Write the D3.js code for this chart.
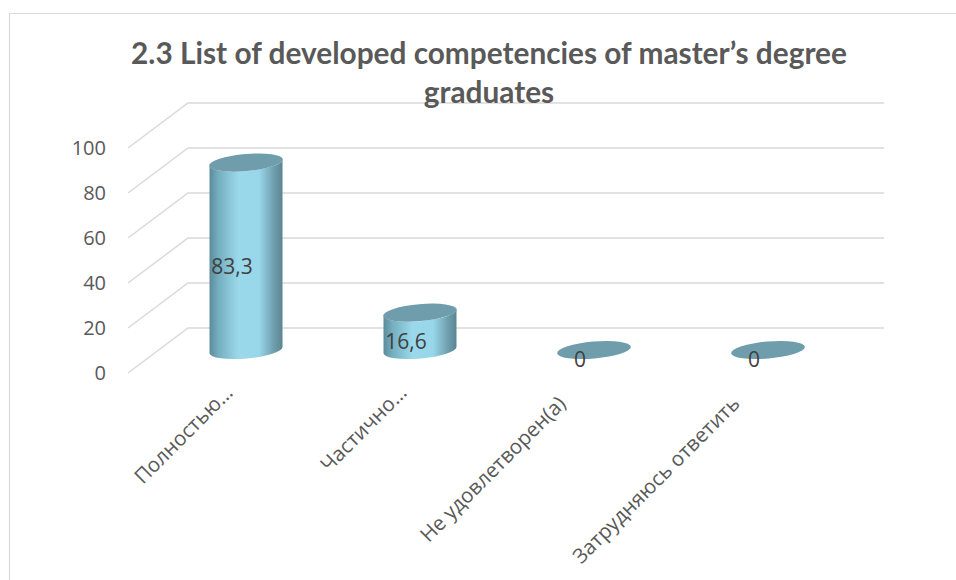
<!DOCTYPE html>
<html>
<head>
<meta charset="utf-8">
<script src="https://cdn.jsdelivr.net/npm/d3@7"></script>
<style>
  body { margin: 0; background: #fff; }
  svg { display: block; }
  text { font-family: "Open Sans", sans-serif; }
</style>
</head>
<body>
<svg id="chart"></svg>
<script>
const width = 956;
const height = 580;

const categories = ["Полностью…", "Частично…", "Не удовлетворен(а)", "Затрудняюсь ответить"];
const values = [83.3, 16.6, 0, 0];
const valueLabels = ["83,3", "16,6", "0", "0"];
const yTicks = [0, 20, 40, 60, 80, 100];
const titleLines = ["2.3 List of developed competencies of master’s degree", "graduates"];

const svg = d3.select("#chart").attr("width", width).attr("height", height);

// frame of the chart area
svg.append("path")
  .attr("d", "M9.5,580V13.5H956")
  .attr("fill", "none")
  .attr("stroke", "#d9d9d9")
  .attr("stroke-width", 1.2);

// front edge of the floor is y(0), the back wall sits up and to the right
const depthX = 60;
const depthY = 45;
const y = d3.scaleLinear().domain([0, 100]).range([373, 148]);
const x = d3.scaleBand().domain(categories).range([159, 855]);

const defs = svg.append("defs");
const grad = defs.append("linearGradient").attr("id", "cyl");
[[0, "#5b8b9b"], [0.12, "#74aebf"], [0.4, "#9ad9eb"], [0.68, "#98d7e9"], [0.88, "#6f9fae"], [1, "#5a8592"]]
  .forEach(([o, c]) => grad.append("stop").attr("offset", o).attr("stop-color", c));

// ----- GRID -----
const grid = svg.append("g").attr("fill", "none").attr("stroke", "#d9d9d9").attr("stroke-width", 1.5);
grid.selectAll("path")
  .data(yTicks)
  .join("path")
  .attr("d", d => `M128,${y(d)}L${128 + depthX},${y(d) - depthY}H884`);

// ----- Y AXIS -----
svg.append("g")
  .attr("transform", "translate(106,0)")
  .call(d3.axisLeft(y).tickValues(yTicks).tickSize(0).tickPadding(0))
  .call(g => g.select(".domain").remove())
  .selectAll("text")
  .attr("font-size", 20)
  .attr("fill", "#595959")
  .style("font-family", '"Open Sans", sans-serif');

// ----- CYLINDERS -----
const rx = 36.5;
const ry = 8.5;
const tilt = -5;
const floorShift = 23; // bars stand in the middle of the floor depth
const tiltY = rx * Math.sin(-tilt * Math.PI / 180);

const bars = svg.append("g").selectAll("g")
  .data(categories)
  .join("g")
  .attr("transform", d => `translate(${x(d) + x.bandwidth() / 2},0)`);

bars.filter((d, i) => values[i] > 0)
  .append("path")
  .attr("fill", "url(#cyl)")
  .attr("d", (d, i) => {
    const top = y(values[i]) - floorShift;
    const base = y(0) - floorShift;
    return `M${-rx},${top + tiltY}V${base + tiltY}`
      + `A${rx},${ry} ${tilt} 0 0 ${rx},${base - tiltY}`
      + `V${top - tiltY}`
      + `A${rx},${ry} ${tilt} 0 1 ${-rx},${top + tiltY}Z`;
  });

bars.append("ellipse")
  .attr("cy", (d, i) => y(values[i]) - floorShift)
  .attr("rx", rx + 0.5)
  .attr("ry", ry)
  .attr("fill", "#6f9dab")
  .attr("transform", (d, i) => `rotate(${tilt} 0 ${y(values[i]) - floorShift})`);

bars.append("text")
  .attr("x", -14)
  .attr("y", (d, i) => (y(values[i]) + y(0)) / 2 - floorShift + 10)
  .attr("dy", "0.35em")
  .attr("text-anchor", "middle")
  .attr("font-size", 21)
  .attr("fill", "#404040")
  .text((d, i) => valueLabels[i]);

// ----- CATEGORY LABELS -----
svg.append("g").selectAll("text")
  .data(categories)
  .join("text")
  .attr("transform", d => {
    // truncated labels sit a little closer to their bar
    const cut = d.endsWith("…");
    return `translate(${x(d) + x.bandwidth() / 2 + (cut ? -12 : -27)},${cut ? 394 : 405}) rotate(-45)`;
  })
  .attr("text-anchor", "end")
  .attr("font-size", 20.5)
  .attr("fill", "#595959")
  .text(d => d);

// ----- TITLE -----
svg.append("g").selectAll("text")
  .data(titleLines)
  .join("text")
  .attr("x", 489)
  .attr("y", (d, i) => 64 + i * 39)
  .attr("text-anchor", "middle")
  .attr("font-size", 29.8)
  .attr("font-weight", 700)
  .attr("fill", "#595959")
  .style("font-family", "Lato, sans-serif")
  .text(d => d);
</script>
</body>
</html>
